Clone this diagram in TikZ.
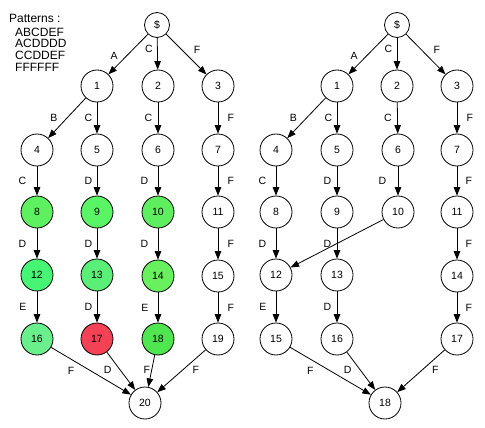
\documentclass[tikz,border=0pt]{standalone}
\usepackage{fontspec}
\setmainfont{Liberation Sans}
\usetikzlibrary{positioning, arrows.meta}

% node fills
\definecolor{gA}{RGB}{95,240,95}
\definecolor{gB}{RGB}{90,245,100}
\definecolor{gC}{RGB}{95,238,95}
\definecolor{gD}{RGB}{70,245,115}
\definecolor{gE}{RGB}{90,240,120}
\definecolor{gF}{RGB}{105,240,95}
\definecolor{gG}{RGB}{105,240,140}
\definecolor{gH}{RGB}{80,230,80}
\definecolor{rA}{RGB}{245,65,85}

\tikzset{
    state/.style={circle, draw, line width=0.8pt, minimum size=32pt, inner sep=0pt,
        font=\fontsize{10.5}{12}\selectfont},
    root/.style={state, minimum size=25pt},
    arr/.style={line width=0.8pt, -{Triangle[length=8.5pt, width=6.5pt]}},
    lbl/.style={font=\fontsize{10.5}{12}\selectfont}
}

\begin{document}
\begin{tikzpicture}[x=1pt, y=-1pt]
    \useasboundingbox (0,0) rectangle (485,428);

    % pattern list
    \node[anchor=west, inner sep=0pt, font=\fontsize{12}{12}\selectfont] (pat) at (9,18.5) {Patterns :};
    \node[anchor=north west, align=left, inner sep=0pt,
          font=\fontsize{12}{11.8}\selectfont] (patlist) at (15,27.5)
          {ABCDEF\\ACDDDD\\CCDDEF\\FFFFFF};

    % ;- left trie ;-
    \node[root]  (l0)  at (157,25)  {\$};
    \node[state] (l1)  at (97,86)   {1};
    \node[state] (l2)  at (158,86)  {2};
    \node[state] (l3)  at (218,86)  {3};
    \node[state] (l4)  at (37,150)  {4};
    \node[state] (l5)  at (97,150)  {5};
    \node[state] (l6)  at (158,150) {6};
    \node[state] (l7)  at (218,150) {7};
    \node[state, fill=gA] (l8)  at (37,212)  {8};
    \node[state, fill=gB] (l9)  at (97,212)  {9};
    \node[state, fill=gC] (l10) at (158,212) {10};
    \node[state]          (l11) at (218,212) {11};
    \node[state, fill=gD] (l12) at (37,275)  {12};
    \node[state, fill=gE] (l13) at (97,275)  {13};
    \node[state, fill=gF] (l14) at (158,276) {14};
    \node[state]          (l15) at (218,276) {15};
    \node[state, fill=gG] (l16) at (37,339)  {16};
    \node[state, fill=rA] (l17) at (97,339)  {17};
    \node[state, fill=gH] (l18) at (158,339) {18};
    \node[state]          (l19) at (218,339) {19};
    \node[state] (l20) at (145,403) {20};

    \draw[arr] (l0) -- node[lbl, pos=.55, left=5pt] {A} (l1);
    \draw[arr] (l0) -- node[lbl, pos=.35, left=1pt] {C} (l2);
    \draw[arr] (l0) -- node[lbl, pos=.4, right=8pt] {F} (l3);
    \draw[arr] (l1) -- node[lbl, left=6pt] {B} (l4);
    \draw[arr] (l1) -- node[lbl, left=1pt] {C} (l5);
    \draw[arr] (l2) -- node[lbl, left=2pt] {C} (l6);
    \draw[arr] (l3) -- node[lbl, right=6pt] {F} (l7);

    \draw[arr] (l4) -- node[lbl, left=7pt] {C} (l8);
    \draw[arr] (l5) -- node[lbl, left=1pt] {D} (l9);
    \draw[arr] (l6) -- node[lbl, left=6pt] {D} (l10);
    \draw[arr] (l7) -- node[lbl, right=6pt] {F} (l11);

    \draw[arr] (l8)  -- node[lbl, left=7pt] {D} (l12);
    \draw[arr] (l9)  -- node[lbl, left=1pt] {D} (l13);
    \draw[arr] (l10) -- node[lbl, left=6pt] {D} (l14);
    \draw[arr] (l11) -- node[lbl, right=6pt] {F} (l15);

    \draw[arr] (l12) -- node[lbl, left=7pt] {E} (l16);
    \draw[arr] (l13) -- node[lbl, left=1pt] {D} (l17);
    \draw[arr] (l14) -- node[lbl, left=6pt] {E} (l18);
    \draw[arr] (l15) -- node[lbl, right=6pt] {F} (l19);

    \draw[arr] (l16) -- node[lbl, pos=.25, below=4pt] {F} (l20);
    \draw[arr] (l17) -- node[lbl, pos=.47, left=5pt] {D} (l20);
    \draw[arr] (l18) -- node[lbl, pos=.47, left=-2pt] {F} (l20);
    \draw[arr] (l19) -- node[lbl, pos=.47, right=6pt] {F} (l20);

    % ;- right trie (merged) ;-
    \node[root]  (r0)  at (397,25)  {\$};
    \node[state] (r1)  at (337,86)  {1};
    \node[state] (r2)  at (397,86)  {2};
    \node[state] (r3)  at (457,86)  {3};
    \node[state] (r4)  at (276,150) {4};
    \node[state] (r5)  at (337,150) {5};
    \node[state] (r6)  at (398,150) {6};
    \node[state] (r7)  at (457,150) {7};
    \node[state] (r8)  at (276,212) {8};
    \node[state] (r9)  at (337,212) {9};
    \node[state] (r10) at (398,212) {10};
    \node[state] (r11) at (457,212) {11};
    \node[state] (r12) at (276,275) {12};
    \node[state] (r13) at (337,275) {13};
    \node[state] (r14) at (457,276) {14};
    \node[state] (r15) at (276,339) {15};
    \node[state] (r16) at (337,339) {16};
    \node[state] (r17) at (457,339) {17};
    \node[state] (r18) at (385,403) {18};

    \draw[arr] (r0) -- node[lbl, pos=.55, left=5pt] {A} (r1);
    \draw[arr] (r0) -- node[lbl, pos=.35, left=1pt] {C} (r2);
    \draw[arr] (r0) -- node[lbl, pos=.4, right=8pt] {F} (r3);
    \draw[arr] (r1) -- node[lbl, left=6pt] {B} (r4);
    \draw[arr] (r1) -- node[lbl, left=1pt] {C} (r5);
    \draw[arr] (r2) -- node[lbl, left=2pt] {C} (r6);
    \draw[arr] (r3) -- node[lbl, right=6pt] {F} (r7);

    \draw[arr] (r4) -- node[lbl, left=6pt] {C} (r8);
    \draw[arr] (r5) -- node[lbl, left=2pt] {D} (r9);
    \draw[arr] (r6) -- node[lbl, left=8pt] {D} (r10);
    \draw[arr] (r7) -- node[lbl, right=5pt] {F} (r11);

    \draw[arr] (r8)  -- node[lbl, left=6pt] {D} (r12);
    \draw[arr] (r9)  -- node[lbl, left=2pt] {D} (r13);
    \draw[arr] (r10) -- (r12);
    \draw[arr] (r11) -- node[lbl, right=5pt] {F} (r14);

    \draw[arr] (r12) -- node[lbl, left=6pt] {E} (r15);
    \draw[arr] (r13) -- node[lbl, left=2pt] {D} (r16);
    \draw[arr] (r14) -- node[lbl, right=5pt] {F} (r17);

    \draw[arr] (r15) -- node[lbl, pos=.25, below=4pt] {F} (r18);
    \draw[arr] (r16) -- node[lbl, pos=.47, left=5pt] {D} (r18);
    \draw[arr] (r17) -- node[lbl, pos=.47, right=6pt] {F} (r18);
\end{tikzpicture}
\end{document}
